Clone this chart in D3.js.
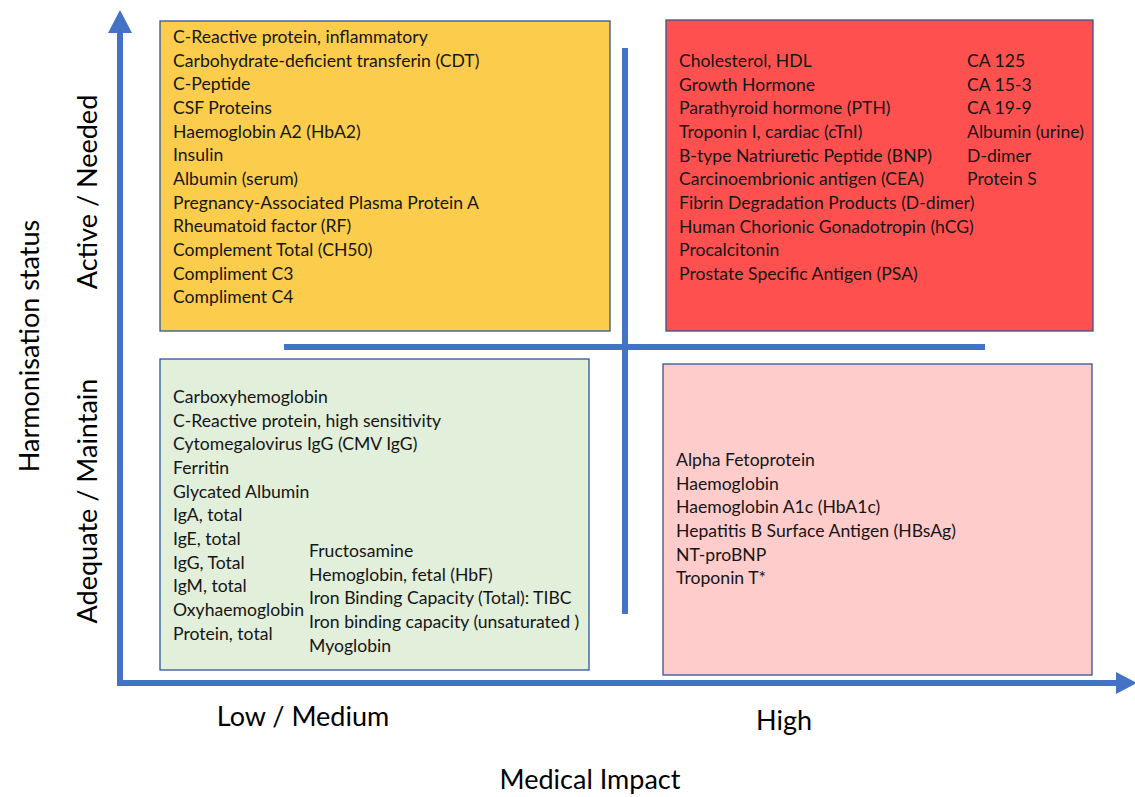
<!DOCTYPE html>
<html>
<head>
<meta charset="utf-8">
<script src="https://cdn.jsdelivr.net/npm/d3@7"></script>
<style>
  body { margin: 0; background: #fff; }
  svg { display: block; }
</style>
</head>
<body>
<svg id="chart"></svg>
<script>
// quadrant contents
const activeLowItems = [
    "C-Reactive protein, inflammatory",
    "Carbohydrate-deficient transferin (CDT)",
    "C-Peptide",
    "CSF Proteins",
    "Haemoglobin A2 (HbA2)",
    "Insulin",
    "Albumin (serum)",
    "Pregnancy-Associated Plasma Protein A",
    "Rheumatoid factor (RF)",
    "Complement Total (CH50)",
    "Compliment C3",
    "Compliment C4"
];
const activeHighItems = [
    "Cholesterol, HDL",
    "Growth Hormone",
    "Parathyroid hormone (PTH)",
    "Troponin I, cardiac (cTnI)",
    "B-type Natriuretic Peptide (BNP)",
    "Carcinoembrionic antigen (CEA)",
    "Fibrin Degradation Products (D-dimer)",
    "Human Chorionic Gonadotropin (hCG)",
    "Procalcitonin",
    "Prostate Specific Antigen (PSA)"
];
const activeHighItems2 = ["CA 125", "CA 15-3", "CA 19-9", "Albumin (urine)", "D-dimer", "Protein S"];
const adequateLowItems = [
    "Carboxyhemoglobin",
    "C-Reactive protein, high sensitivity",
    "Cytomegalovirus IgG (CMV IgG)",
    "Ferritin",
    "Glycated Albumin",
    "IgA, total",
    "IgE, total",
    "IgG, Total",
    "IgM, total",
    "Oxyhaemoglobin",
    "Protein, total"
];
const adequateLowItems2 = [
    "Fructosamine",
    "Hemoglobin, fetal (HbF)",
    "Iron Binding Capacity (Total): TIBC",
    "Iron binding capacity (unsaturated )",
    "Myoglobin"
];
const adequateHighItems = [
    "Alpha Fetoprotein",
    "Haemoglobin",
    "Haemoglobin A1c (HbA1c)",
    "Hepatitis B Surface Antigen (HBsAg)",
    "NT-proBNP",
    "Troponin T*"
];

const xLabels = ["Low / Medium", "High"];
const yLabels = ["Adequate / Maintain", "Active / Needed"];

const width = 1135, height = 797;
const axisBlue = "#4472C4";
const font = "Lato, 'Open Sans', sans-serif";

const svg = d3.select("#chart")
    .attr("width", width)
    .attr("height", height);

// boxes
const boxes = [
    {x0: 160, y0: 21, x1: 610, y1: 331, fill: "#FCCD4D"},
    {x0: 666, y0: 20, x1: 1093, y1: 331, fill: "#FF5050"},
    {x0: 160, y0: 359, x1: 589, y1: 670, fill: "#E2EFDA"},
    {x0: 663, y0: 364, x1: 1092, y1: 675, fill: "#FFCCCC"}
];

svg.append("g")
    .selectAll("rect")
    .data(boxes)
    .join("rect")
    .attr("x", d => d.x0)
    .attr("y", d => d.y0)
    .attr("width", d => d.x1 - d.x0)
    .attr("height", d => d.y1 - d.y0)
    .attr("fill", d => d.fill)
    .attr("stroke", "#2F5597")
    .attr("stroke-width", 1.3);

// inner cross
svg.append("line")
    .attr("x1", 625).attr("x2", 625)
    .attr("y1", 48).attr("y2", 614)
    .attr("stroke", axisBlue).attr("stroke-width", 6);
svg.append("line")
    .attr("x1", 284).attr("x2", 985)
    .attr("y1", 347).attr("y2", 347)
    .attr("stroke", axisBlue).attr("stroke-width", 6);

// axes with arrows
svg.append("path")
    .attr("d", "M120,686 L120,30")
    .attr("stroke", axisBlue).attr("stroke-width", 6).attr("fill", "none");
svg.append("path")
    .attr("d", "M117,683 L1118,683")
    .attr("stroke", axisBlue).attr("stroke-width", 6).attr("fill", "none");
svg.append("path")
    .attr("d", "M108,33 L120,10 L132,33 Z")
    .attr("fill", axisBlue);
svg.append("path")
    .attr("d", "M1116,672 L1137,683 L1116,694 Z")
    .attr("fill", axisBlue);

// lists
const rowStep = 23.65;
function drawList(items, x, firstY) {
    const y = d3.scaleLinear().domain([0, 1]).range([firstY, firstY + rowStep]);
    svg.append("g")
        .attr("font-family", font)
        .attr("font-size", 17.6)
        .attr("fill", "#151515")
        .selectAll("text")
        .data(items)
        .join("text")
        .attr("x", x)
        .attr("y", (d, i) => y(i))
        .attr("dy", "0.35em")
        .text(d => d);
}

drawList(activeLowItems, 173, 37);
drawList(activeHighItems, 679, 61);
drawList(activeHighItems2, 967, 61);
drawList(adequateLowItems, 173, 397);
drawList(adequateLowItems2, 309, 551);
drawList(adequateHighItems, 676, 460);

// axis category labels
const labelSize = 27;
const xs = d3.scalePoint().domain(xLabels).range([303, 784]);
svg.append("g")
    .attr("font-family", font)
    .attr("font-size", labelSize)
    .attr("text-anchor", "middle")
    .selectAll("text")
    .data(xLabels)
    .join("text")
    .attr("x", d => xs(d))
    .attr("y", (d, i) => i === 0 ? 717 : 721)
    .attr("dy", "0.35em")
    .text(d => d);

const ys = d3.scalePoint().domain(yLabels).range([501, 192]);
svg.append("g")
    .attr("font-family", font)
    .attr("font-size", labelSize)
    .attr("text-anchor", "middle")
    .selectAll("text")
    .data(yLabels)
    .join("text")
    .attr("transform", d => `translate(88,${ys(d)}) rotate(-90)`)
    .attr("dy", "0.35em")
    .text(d => d);

svg.append("text")
    .attr("transform", "translate(30,346) rotate(-90)")
    .attr("font-family", font)
    .attr("font-size", labelSize)
    .attr("text-anchor", "middle")
    .attr("dy", "0.35em")
    .text("Harmonisation status");

svg.append("text")
    .attr("x", 590).attr("y", 780)
    .attr("font-family", font)
    .attr("font-size", labelSize)
    .attr("text-anchor", "middle")
    .attr("dy", "0.35em")
    .text("Medical Impact");
</script>
</body>
</html>
